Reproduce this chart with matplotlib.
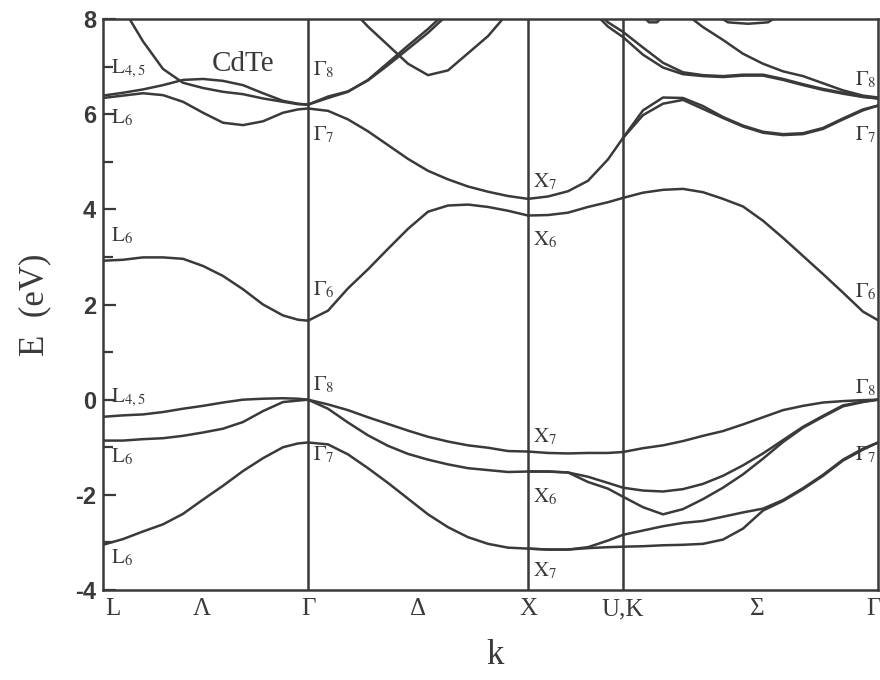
import matplotlib
matplotlib.use('Agg')
import matplotlib.pyplot as plt
from matplotlib.ticker import MultipleLocator

plt.rcParams['mathtext.fontset'] = 'stix'
plt.rcParams['axes.unicode_minus'] = False

# ---------------- k path ----------------
k_sym = [0.00, 2.05, 4.25, 5.20, 7.75]          # L, Gamma, X, U/K, Gamma
k_tick_pos = [0.10, 0.99, 2.05, 3.15, 4.25, 5.20, 6.54, 7.70]
k_tick_lab = ['L', 'Λ', 'Γ', 'Δ', 'X', 'U,K', 'Σ', 'Γ']

K_LG = [0.00, 0.20, 0.40, 0.60, 0.80, 1.00, 1.20, 1.40, 1.60, 1.80, 1.95, 2.05]
K_GX = [2.05, 2.25, 2.45, 2.65, 2.85, 3.05, 3.25, 3.45, 3.65, 3.85, 4.05, 4.25]
K_XU = [4.25, 4.45, 4.65, 4.85, 5.05, 5.20]
K_KG = [5.20, 5.40, 5.60, 5.80, 6.00, 6.20, 6.40, 6.60, 6.80, 7.00, 7.20, 7.40, 7.60, 7.75]

# ---------------- valence bands (eV) ----------------
vso_LG = [-3.05, -2.93, -2.77, -2.62, -2.40, -2.10, -1.81, -1.50, -1.23, -1.00, -0.92, -0.90]
vhh_LG = [-0.36, -0.33, -0.31, -0.26, -0.19, -0.13, -0.06, 0.00, 0.02, 0.03, 0.02, 0.00]
vlh_LG = [-0.86, -0.86, -0.83, -0.81, -0.76, -0.69, -0.61, -0.47, -0.24, -0.05, -0.02, 0.00]

vso_GX = [-0.90, -0.94, -1.15, -1.44, -1.75, -2.08, -2.41, -2.68, -2.89, -3.03, -3.11, -3.13]
vhh_GX = [0.00, -0.10, -0.22, -0.37, -0.51, -0.65, -0.78, -0.88, -0.96, -1.01, -1.08, -1.09]
vlh_GX = [0.00, -0.19, -0.48, -0.75, -0.97, -1.14, -1.26, -1.36, -1.44, -1.48, -1.52, -1.51]

vso_a_XU = [-3.13, -3.15, -3.15, -3.10, -2.96, -2.84]
vso_b_XU = [-3.13, -3.15, -3.15, -3.12, -3.10, -3.09]
vhh_XU = [-1.09, -1.12, -1.13, -1.12, -1.12, -1.10]
vlh_c_XU = [-1.51, -1.51, -1.53, -1.62, -1.75, -1.85]
vlh_d_XU = [-1.51, -1.51, -1.53, -1.73, -1.87, -2.04]

vso_a_KG = [-2.84, -2.75, -2.66, -2.59, -2.55, -2.46, -2.37, -2.29, -2.11, -1.86, -1.58, -1.26, -1.03, -0.90]
vso_b_KG = [-3.09, -3.08, -3.06, -3.05, -3.03, -2.94, -2.71, -2.33, -2.13, -1.88, -1.60, -1.28, -1.05, -0.90]
vhh_KG = [-1.10, -1.02, -0.96, -0.87, -0.76, -0.66, -0.52, -0.37, -0.22, -0.13, -0.06, -0.03, -0.01, 0.00]
vlh_c_KG = [-1.85, -1.91, -1.93, -1.88, -1.77, -1.60, -1.38, -1.13, -0.85, -0.57, -0.34, -0.12, -0.04, 0.00]
vlh_d_KG = [-2.04, -2.26, -2.41, -2.30, -2.09, -1.85, -1.57, -1.24, -0.89, -0.59, -0.36, -0.14, -0.05, 0.00]

# ---------------- conduction bands (eV) ----------------
c6_LG = [2.92, 2.94, 2.99, 2.99, 2.96, 2.81, 2.60, 2.32, 2.00, 1.77, 1.68, 1.66]
c6_GX = [1.66, 1.87, 2.34, 2.74, 3.17, 3.59, 3.95, 4.08, 4.10, 4.05, 3.97, 3.87]
c6_XU = [3.87, 3.88, 3.93, 4.05, 4.15, 4.24]
c6_KG = [4.24, 4.35, 4.41, 4.43, 4.36, 4.22, 4.06, 3.76, 3.40, 3.02, 2.64, 2.25, 1.85, 1.67]

c7_LG = [6.34, 6.39, 6.44, 6.40, 6.26, 6.03, 5.82, 5.77, 5.85, 6.03, 6.10, 6.12]
c7_GX = [6.12, 6.07, 5.89, 5.64, 5.35, 5.06, 4.81, 4.63, 4.48, 4.37, 4.28, 4.22]
c7_XU = [4.22, 4.27, 4.38, 4.60, 5.05, 5.50]
c7a_KG = [5.50, 6.08, 6.35, 6.34, 6.17, 5.94, 5.76, 5.63, 5.58, 5.60, 5.71, 5.91, 6.10, 6.18]
c7b_KG = [5.50, 5.98, 6.22, 6.30, 6.11, 5.92, 5.74, 5.61, 5.56, 5.58, 5.69, 5.89, 6.08, 6.18]

c8_LG = [6.39, 6.45, 6.52, 6.61, 6.72, 6.74, 6.70, 6.61, 6.44, 6.28, 6.22, 6.20]
K_steep = [0.20, 0.40, 0.60, 0.80, 1.00, 1.20, 1.40, 1.60, 1.80, 1.95, 2.05]
steep_LG = [8.23, 7.53, 6.95, 6.66, 6.55, 6.47, 6.42, 6.33, 6.26, 6.21, 6.20]

K_G8up = [2.05, 2.25, 2.45, 2.65, 2.85, 3.05, 3.25, 3.45]
c8a_GX = [6.20, 6.37, 6.48, 6.71, 7.03, 7.37, 7.71, 8.10]
c8b_GX = [6.20, 6.34, 6.47, 6.72, 7.08, 7.44, 7.79, 8.18]

K_W = [2.45, 2.65, 2.85, 3.05, 3.25, 3.45, 3.65, 3.85, 4.05]
w_GX = [8.28, 7.84, 7.45, 7.06, 6.82, 6.92, 7.28, 7.64, 8.13]

K_top_XU = [4.95, 5.05, 5.20]
t1_XU = [8.12, 7.93, 7.73]
t2_XU = [8.05, 7.84, 7.62]
t1_KG = [7.73, 7.40, 7.08, 6.88, 6.82, 6.80, 6.83, 6.83, 6.74, 6.63, 6.53, 6.45, 6.37, 6.33]
t2_KG = [7.62, 7.25, 6.98, 6.84, 6.80, 6.78, 6.81, 6.81, 6.72, 6.61, 6.51, 6.43, 6.36, 6.33]
K_T3 = [5.80, 6.00, 6.20, 6.40, 6.60, 6.80, 7.00, 7.20, 7.40, 7.60, 7.75]
t3_KG = [8.15, 7.83, 7.56, 7.27, 7.06, 6.90, 6.80, 6.65, 6.50, 6.39, 6.35]

K_TB1 = [5.40, 5.46, 5.54, 5.60]
tb1 = [8.06, 7.93, 7.93, 8.06]
K_TB2 = [6.15, 6.25, 6.45, 6.65, 6.75]
tb2 = [8.06, 7.93, 7.90, 7.93, 8.06]

# ---------------- labels ----------------
lab_L = [(r'$\mathrm{L}_{4,5}$', 6.95), (r'$\mathrm{L}_{6}$', 5.92), (r'$\mathrm{L}_{6}$', 3.45),
         (r'$\mathrm{L}_{4,5}$', 0.04), (r'$\mathrm{L}_{6}$', -1.20), (r'$\mathrm{L}_{6}$', -3.32)]
lab_G = [(r'$\Gamma_{8}$', 6.93), (r'$\Gamma_{7}$', 5.57), (r'$\Gamma_{6}$', 2.31),
         (r'$\Gamma_{8}$', 0.32), (r'$\Gamma_{7}$', -1.16)]
lab_X = [(r'$\mathrm{X}_{7}$', 4.58), (r'$\mathrm{X}_{6}$', 3.36), (r'$\mathrm{X}_{7}$', -0.78),
         (r'$\mathrm{X}_{6}$', -2.04), (r'$\mathrm{X}_{7}$', -3.59)]
lab_G2 = [(r'$\Gamma_{8}$', 6.72), (r'$\Gamma_{7}$', 5.57), (r'$\Gamma_{6}$', 2.27),
          (r'$\Gamma_{8}$', 0.25), (r'$\Gamma_{7}$', -1.16)]

# ---------------- figure ----------------
ink = '#3a3a3a'
fig = plt.figure(figsize=(8.8, 6.8), dpi=100)
ax = fig.add_axes([103/880, 1-590/680, 775/880, 571/680])

curves = [
    (K_LG, vso_LG), (K_LG, vhh_LG), (K_LG, vlh_LG),
    (K_GX, vso_GX), (K_GX, vhh_GX), (K_GX, vlh_GX),
    (K_XU, vso_a_XU), (K_XU, vso_b_XU), (K_XU, vhh_XU), (K_XU, vlh_c_XU), (K_XU, vlh_d_XU),
    (K_KG, vso_a_KG), (K_KG, vso_b_KG), (K_KG, vhh_KG), (K_KG, vlh_c_KG), (K_KG, vlh_d_KG),
    (K_LG, c6_LG), (K_GX, c6_GX), (K_XU, c6_XU), (K_KG, c6_KG),
    (K_LG, c7_LG), (K_GX, c7_GX), (K_XU, c7_XU), (K_KG, c7a_KG), (K_KG, c7b_KG),
    (K_LG, c8_LG), (K_steep, steep_LG), (K_G8up, c8a_GX), (K_G8up, c8b_GX),
    (K_W, w_GX), (K_top_XU, t1_XU), (K_top_XU, t2_XU), (K_KG, t1_KG), (K_KG, t2_KG),
    (K_T3, t3_KG), (K_TB1, tb1), (K_TB2, tb2),
]
for kk, ee in curves:
    ax.plot(kk, ee, color=ink, lw=1.8, solid_joinstyle='round', solid_capstyle='round')

for ks in k_sym[1:4]:
    ax.axvline(ks, color=ink, lw=1.8)

ax.set_xlim(k_sym[0], k_sym[-1])
ax.set_ylim(-4, 8)
for s in ax.spines.values():
    s.set_color(ink)
    s.set_linewidth(1.8)

ax.set_yticks([-4, -2, 0, 2, 4, 6, 8])
ax.yaxis.set_minor_locator(MultipleLocator(1))
ax.tick_params(axis='y', which='major', direction='in', length=9, width=1.6, color=ink,
               labelsize=17, pad=5, labelcolor=ink)
ax.tick_params(axis='y', which='minor', direction='in', length=7, width=1.6, color=ink)
for t in ax.get_yticklabels():
    t.set_fontfamily('Liberation Sans')
    t.set_fontweight('bold')

ax.set_xticks(k_tick_pos)
ax.set_xticklabels(k_tick_lab, fontsize=18, family='Liberation Serif', color=ink)
ax.tick_params(axis='x', length=0, pad=6)

fig.text(495/880, 1-655/680, 'k', ha='center', va='center', fontsize=25,
         family='Liberation Serif', color=ink)
fig.text(35/880, 1-305/680, 'E  (eV)', ha='center', va='center', rotation=90, fontsize=25,
         family='Liberation Serif', color=ink)
ax.text(1.40, 7.05, 'CdTe', ha='center', va='center', fontsize=21,
        family='Liberation Serif', color=ink)

for txt, e in lab_L:
    ax.text(0.08, e, txt, ha='left', va='center', fontsize=15, color=ink)
for txt, e in lab_G:
    ax.text(2.10, e, txt, ha='left', va='center', fontsize=15, color=ink)
for txt, e in lab_X:
    ax.text(4.30, e, txt, ha='left', va='center', fontsize=15, color=ink)
for txt, e in lab_G2:
    ax.text(7.73, e, txt, ha='right', va='center', fontsize=15, color=ink)

fig.savefig('out.png', dpi=100)
